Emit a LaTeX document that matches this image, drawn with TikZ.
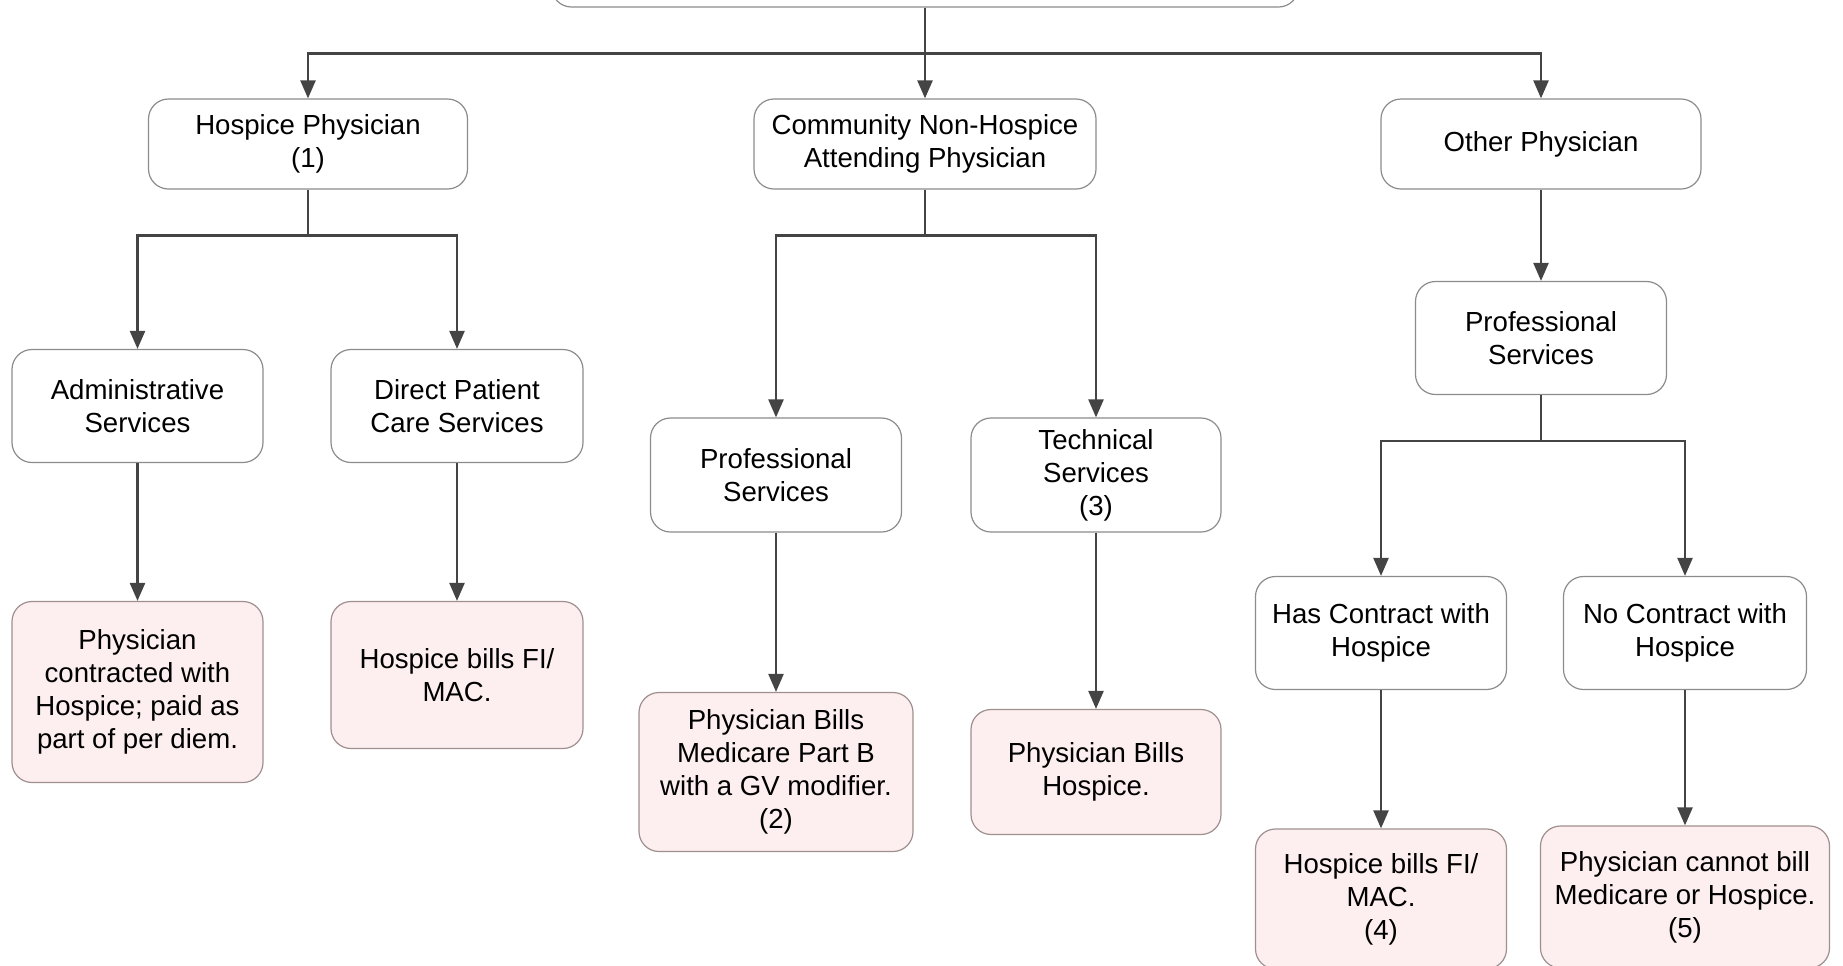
\documentclass[tikz,border=0pt]{standalone}
\usepackage{fontspec}
\setmainfont{Liberation Sans}
\usetikzlibrary{arrows.meta}
\definecolor{linegray}{HTML}{444444}
\definecolor{boxgray}{HTML}{8C8C8C}
\definecolor{leafpink}{HTML}{FDEFEF}
\definecolor{leafline}{HTML}{A08F8F}
\tikzset{
    box/.style={draw=boxgray, line width=0.6pt, rounded corners=10pt, fill=white,
        align=center, inner sep=0pt, font=\fontsize{13.8}{16.5}\selectfont},
    leaf/.style={box, draw=leafline, fill=leafpink},
    wh/.style 2 args={minimum width=#1*0.5pt, minimum height=#2*0.5pt},
    arr/.style={draw=linegray, line width=1.2pt, -{Triangle[width=7.5pt,length=9pt]}}
}
\begin{document}
\begin{tikzpicture}[x=0.5pt,y=-0.5pt]
            \useasboundingbox (0,0) rectangle (1843,965);
            \clip (0,0) rectangle (1843,965);
            \node[box, wh={747}{86}] (root) at (925,-36) {};
            % first level
            \node[box, wh={319}{90}] (hosp) at (308,144) {Hospice Physician\\(1)};
            \node[box, wh={342}{90}] (comm) at (925,144) {Community Non-Hospice\\Attending Physician};
            \node[box, wh={320}{90}] (other) at (1541,144) {Other Physician};
            % hospice physician
            \node[box, wh={251}{113}] (admin) at (137.5,406) {Administrative\\Services};
            \node[box, wh={252}{113}] (direct) at (457,406) {Direct Patient\\Care Services};
            \node[leaf, wh={251}{181}] (paid) at (137.5,692) {Physician\\contracted with\\Hospice; paid as\\part of per diem.};
            \node[leaf, wh={252}{147}] (fimac) at (457,675) {Hospice bills FI/\\MAC.};
            % community physician
            \node[box, wh={251}{114}] (prof) at (776,475) {Professional\\Services};
            \node[box, wh={250}{114}] (tech) at (1096,475) {Technical\\Services\\(3)};
            \node[leaf, wh={274}{159}] (partb) at (776,772) {Physician Bills\\Medicare Part B\\with a GV modifier.\\(2)};
            \node[leaf, wh={250}{125}] (billhosp) at (1096,772) {Physician Bills\\Hospice.};
            % other physician
            \node[box, wh={251}{113}] (oprof) at (1541,338) {Professional\\Services};
            \node[box, wh={251}{113}] (contract) at (1381,633) {Has Contract with\\Hospice};
            \node[box, wh={243}{113}] (nocontract) at (1685,633) {No Contract with\\Hospice};
            \node[leaf, wh={251}{140}] (fimacb) at (1381,899) {Hospice bills FI/\\MAC.\\(4)};
            \node[leaf, wh={289}{142}] (nobill) at (1685,897) {Physician cannot bill\\Medicare or Hospice.\\(5)};
            % branches
            \foreach \p/\l/\r in {root/hosp/other, hosp/admin/direct, comm/prof/tech, oprof/contract/nocontract}
            {
                \draw[arr] (\p.south) -- +(0,46) -| (\l.north);
                \draw[arr] (\p.south) -- +(0,46) -| (\r.north);
            }
            \foreach \a/\b in {root/comm, other/oprof, admin/paid, direct/fimac, prof/partb, tech/billhosp, contract/fimacb, nocontract/nobill}
            \draw[arr] (\a.south) -- (\b.north);
        \end{tikzpicture}
\end{document}
